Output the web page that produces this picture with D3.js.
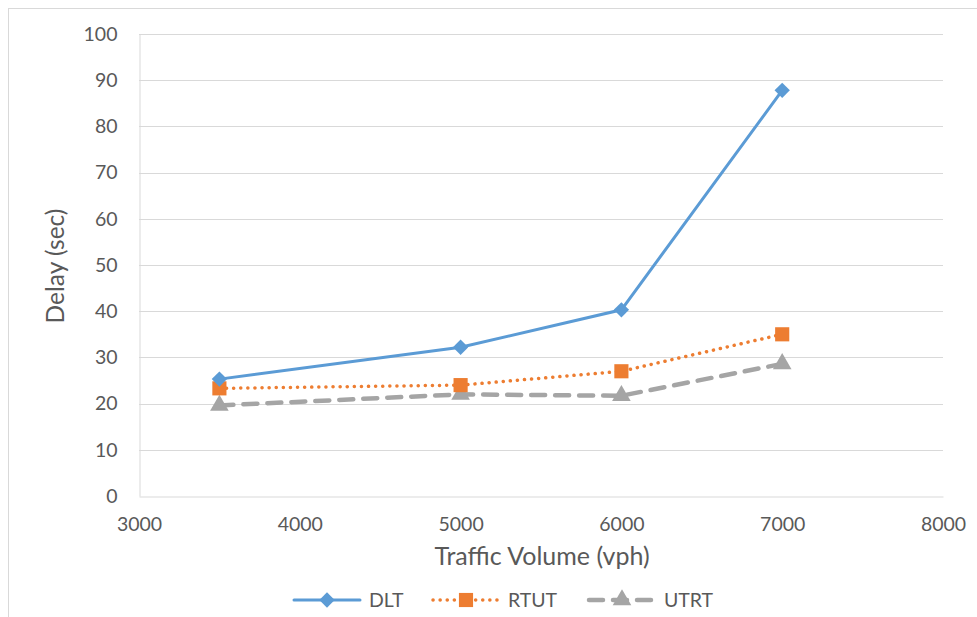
<!DOCTYPE html>
<html><head><meta charset="utf-8">
<script src="https://cdn.jsdelivr.net/npm/d3@7"></script>
<style>body{margin:0;background:#fff;} svg{display:block;font-family:Lato,"Open Sans",sans-serif;}</style>
</head><body>
<svg id="c" width="977" height="617"></svg>
<script>
const xValues = [3500, 5000, 6000, 7000];
const dlt = [25.3, 32.2, 40.3, 87.8];
const rtut = [23.3, 24.0, 27.0, 35.0];
const utrt = [19.6, 22.0, 21.7, 28.6];
const seriesNames = ["DLT", "RTUT", "UTRT"];
const xTicks = [3000, 4000, 5000, 6000, 7000, 8000];
const yTicks = [0, 10, 20, 30, 40, 50, 60, 70, 80, 90, 100];

const svg = d3.select("#c");
svg.append("rect").attr("x", 8.5).attr("y", 8.5).attr("width", 1000).attr("height", 700)
  .attr("fill", "#fff").attr("stroke", "#d9d9d9").attr("stroke-width", 1);

const x = d3.scaleLinear().domain([3000, 8000]).range([139, 943]);
const y = d3.scaleLinear().domain([0, 100]).range([496, 34]);

// gridlines
svg.append("g").selectAll("line").data(yTicks.slice(1)).join("line")
  .attr("x1", x(3000)).attr("x2", x(8000))
  .attr("y1", d => Math.round(y(d)) + 0.5).attr("y2", d => Math.round(y(d)) + 0.5)
  .attr("stroke", "#d9d9d9").attr("stroke-width", 1);

// axes
const yAxis = svg.append("g").attr("transform", `translate(${x(3000)+0.5},0)`)
  .call(d3.axisLeft(y).tickValues(yTicks).tickSize(0).tickPadding(22));
const xAxis = svg.append("g").attr("transform", `translate(0,${y(0)+0.5})`)
  .call(d3.axisBottom(x).tickValues(xTicks).tickSize(0).tickPadding(21).tickFormat(d3.format("d")));
[yAxis, xAxis].forEach(g => {
  g.select(".domain").attr("stroke", "#d9d9d9").attr("stroke-width", 1);
  g.selectAll("text").attr("fill", "#595959").style("font-size", "19.5px").style("font-family", "Lato,'Open Sans',sans-serif");
});

// axis titles
svg.append("text").attr("x", 542).attr("y", 565).attr("text-anchor", "middle")
  .attr("fill", "#595959").style("font-size", "25px").text("Traffic Volume (vph)");
svg.append("text").attr("transform", "translate(64,266) rotate(-90)").attr("text-anchor", "middle")
  .attr("fill", "#595959").style("font-size", "24.5px").text("Delay (sec)");

const series = [
  {name: seriesNames[0], values: dlt, color: "#5b9bd5", dash: null, cap: "round", width: 3, sym: d3.symbolDiamond2, size: 150},
  {name: seriesNames[1], values: rtut, color: "#ed7d31", dash: "0.1 7", cap: "round", width: 3.5, sym: d3.symbolSquare, size: 200},
  {name: seriesNames[2], values: utrt, color: "#a5a5a5", dash: "14 10", cap: "round", width: 4.5, sym: d3.symbolTriangle, size: 150}
];

const line = d3.line().x(d => x(d[0])).y(d => y(d[1]));
series.slice().reverse().forEach(s => {
  const pts = xValues.map((v, i) => [v, s.values[i]]);
  svg.append("path").datum(pts).attr("d", line).attr("fill", "none")
    .attr("stroke", s.color).attr("stroke-width", s.width)
    .attr("stroke-dasharray", s.dash).attr("stroke-linecap", s.cap);
});
series.slice().reverse().forEach(s => {
  const pts = xValues.map((v, i) => [v, s.values[i]]);
  svg.append("g").selectAll("path").data(pts).join("path")
    .attr("transform", d => `translate(${x(d[0])},${y(d[1])})`)
    .attr("d", d3.symbol().type(s.sym).size(s.size)).attr("fill", s.color);
});

// legend
const legendX = [292, 431, 587];
series.forEach((s, i) => {
  const g = svg.append("g").attr("transform", `translate(${legendX[i]},600)`);
  g.append("line").attr("x1", 2).attr("x2", 68).attr("y1", 0).attr("y2", 0)
    .attr("stroke", s.color).attr("stroke-width", s.width)
    .attr("stroke-dasharray", s.dash).attr("stroke-linecap", s.cap);
  g.append("path").attr("transform", "translate(35,0)").attr("d", d3.symbol().type(s.sym).size(s.size)).attr("fill", s.color);
  g.append("text").attr("x", 77).attr("y", 7).attr("fill", "#595959").style("font-size", "19.5px").text(s.name);
});
</script>
</body></html>
